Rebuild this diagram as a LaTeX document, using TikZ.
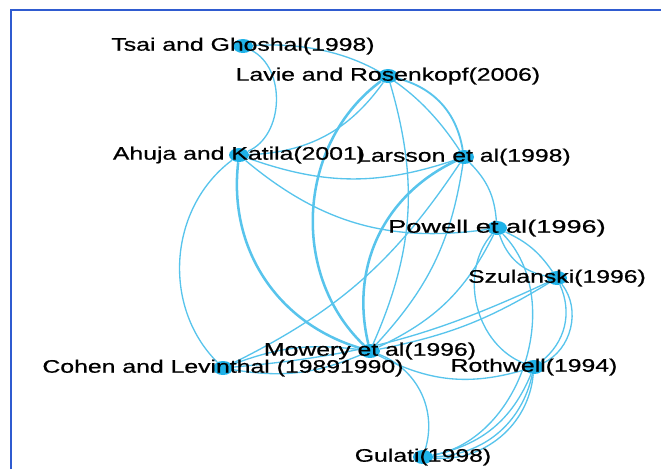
\documentclass[tikz,border=0pt]{standalone}
\usepackage{fontspec}
\setmainfont{Liberation Sans}
\newfontfamily\labfont[FakeBold=0.6]{Liberation Sans}
\usetikzlibrary{shapes.geometric,backgrounds}

\definecolor{edgeblue}{HTML}{58C4EC}
\definecolor{nodeblue}{HTML}{1FB2E8}
\definecolor{framecol}{HTML}{2F5BD0}

\newcommand{\widelab}[2][1.367]{\scalebox{#1}[1]{#2}}

\begin{document}
\begin{tikzpicture}[x=0.75pt, y=-0.75pt,
  dot/.style={ellipse, fill=nodeblue, minimum width=15pt, minimum height=10.5pt, inner sep=0},
  lab/.style={font=\labfont\fontsize{13.6pt}{16pt}\selectfont, inner sep=0},
  link/.style={edgeblue, line width=1pt},
  heavy/.style={edgeblue, line width=1.9pt}]

\useasboundingbox (0,0) rectangle (661,469);

% Frame
\draw[framecol, line width=1.1pt] (11,469) -- (11,10) -- (661,10);

% Nodes
\node[dot] (tsai) at (243,46) {};
\node[dot] (lavie) at (388,76) {};
\node[dot] (ahuja) at (239,155) {};
\node[dot] (larsson) at (464,157) {};
\node[dot] (powell) at (497,228) {};
\node[dot] (szul) at (557,278) {};
\node[dot] (mowery) at (370,351) {};
\node[dot] (cohen) at (223,368) {};
\node[dot] (rothwell) at (534,367) {};
\node[dot] (gulati) at (423,457) {};

% Labels
\node[lab] (tsaiT) at (tsai) {\widelab{Tsai and Ghoshal(1998)}};
\node[lab] (lavieT) at (lavie) {\widelab{Lavie and Rosenkopf(2006)}};
\node[lab] (ahujaT) at (ahuja) {\widelab{Ahuja and Katila(2001)}};
\node[lab] (larssonT) at (larsson) {\widelab{Larsson et al(1998)}};
\node[lab] (powellT) at (powell) {\widelab[1.5]{Powell et al(1996)}};
\node[lab] (szulT) at (szul) {\widelab{Szulanski(1996)}};
\node[lab] (moweryT) at (mowery) {\widelab{Mowery et al(1996)}};
\node[lab] (cohenT) at (cohen) {\widelab{Cohen and Levinthal (19891990)}};
\node[lab] (rothwellT) at (rothwell) {\widelab{Rothwell(1994)}};
\node[lab] (gulatiT) at (gulati) {\widelab{Gulati(1998)}};

% Edges
\begin{scope}[on background layer]
\draw[link] (tsai) to[bend left=65] (ahuja);
\draw[link] (tsai) to[bend left=30] (larsson);
\draw[link] (lavie) to[bend left=26] (ahuja);
\draw[heavy] (lavie) to[bend right=50] (mowery);
\draw[link] (lavie) to[bend left=20] (mowery);
\draw[link, line width=1.4pt] (lavie) to[bend left=33] (larsson);
\draw[heavy] (ahuja) to[bend right=40] (mowery);
\draw[link] (ahuja) to[bend right=19] (larsson);
\draw[link] (ahuja) to[bend right=24] (powell);
\draw[link] (ahuja) to[bend right=49] (cohen);
\draw[heavy] (larsson) to[bend right=39] (mowery);
\draw[link] (larsson) to[bend left=17] (mowery);
\draw[link] (larsson) to[bend left=20] (powell);
\draw[link] (cohen) to[bend right=15] (larsson);
\draw[link] (cohen) to[bend right=10] (szul);
\draw[link] (cohen) to[bend right=16] (mowery);
\draw[link] (cohen) to[bend left=14] (mowery);
\draw[link] (mowery) to[bend right=10] (szul);
\draw[link] (mowery) to[bend right=19] (powell);
\draw[link] (mowery) to[bend right=22] (rothwell);
\draw[link] (mowery) to[bend left=43] (gulati);
\draw[link] (powell) to[bend left=62] (gulati);
\draw[link] (powell) to[bend right=55] (rothwell);
\draw[link] (powell) to[bend right=30] (szul);
\draw[link] (powell) to[bend left=15] (szul);
\draw[link] (szul) to[bend left=52] (rothwell);
\draw[link] (szul) to[bend left=38] (rothwell);
\draw[link] (rothwell) to[bend left=28] (gulati);
\draw[link] (rothwell) to[bend left=38] (gulati);
\draw[link] (rothwell) to[bend left=45] (gulati);
\end{scope}

\end{tikzpicture}
\end{document}
